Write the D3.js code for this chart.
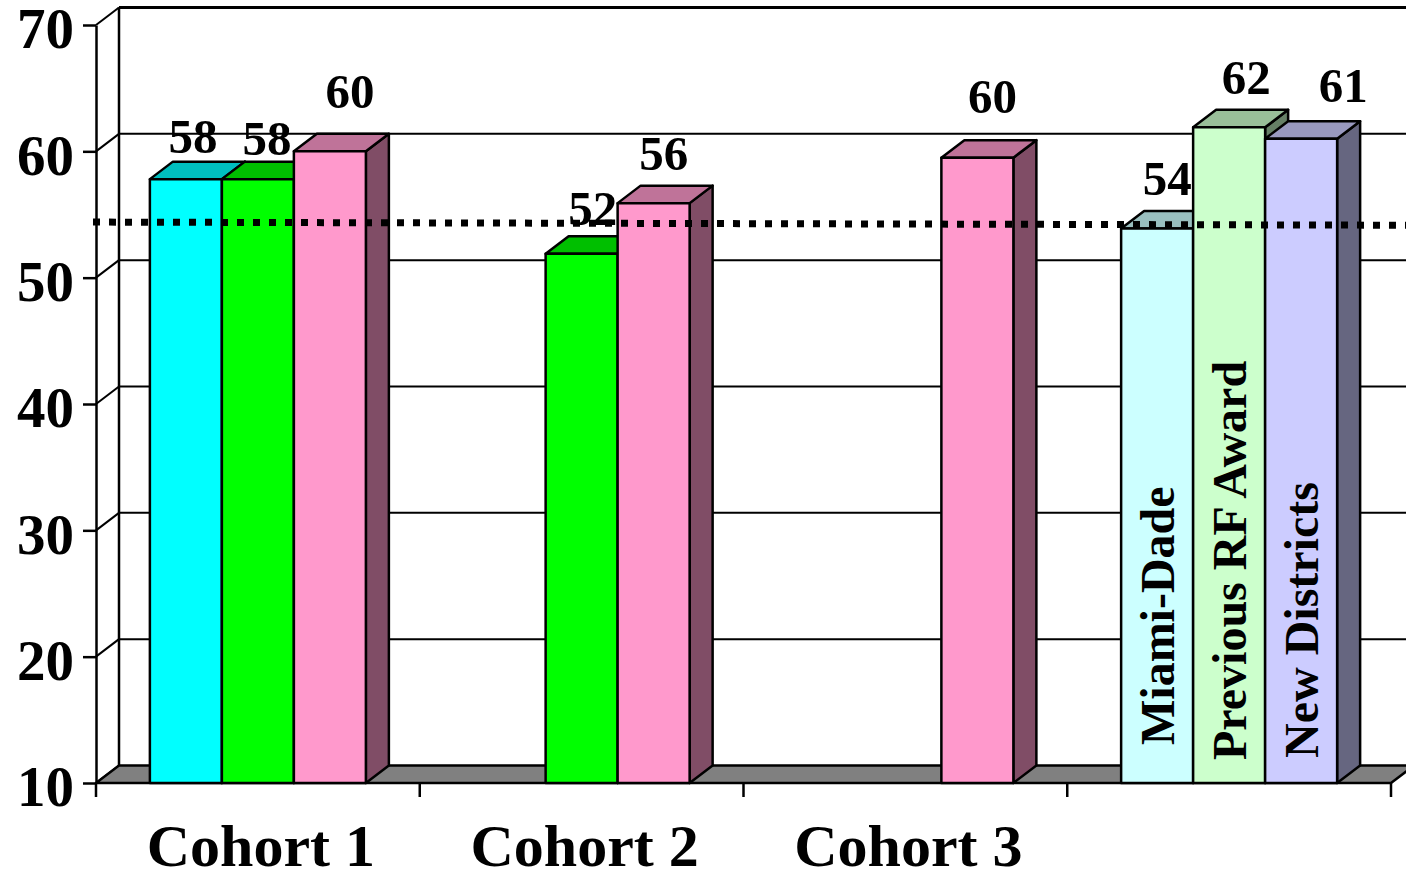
<!DOCTYPE html>
<html>
<head>
<meta charset="utf-8">
<script src="https://cdn.jsdelivr.net/npm/d3@7"></script>
<style>
  html, body { margin: 0; padding: 0; background: #fff; }
  svg { display: block; }
</style>
</head>
<body>
<svg id="chart"></svg>
<script>
// Dữ liệu
const categories = ["Cohort 1", "Cohort 2", "Cohort 3", ""];
const seriesNames = ["Miami-Dade", "Previous RF Award", "New Districts"];
const miamiDade = [57.8, null, null, 53.9];
const previousRF = [57.8, 51.9, null, 61.9];
const newDistricts = [60.0, 55.9, 59.5, 61.0];
const seriesColors = ["#00FFFF", "#00FF00", "#FF99CC"];
const totalColors = ["#CCFFFF", "#CCFFCC", "#CCCCFF"];
const yTicks = [10, 20, 30, 40, 50, 60, 70];
const refLine = [54.4, 54.15];

const allSeries = [miamiDade, previousRF, newDistricts];

// Kích thước
const width = 1406, height = 877;
const depth = { dx: 23, dy: -17.5 };
const font = "'Liberation Serif', 'Times New Roman', serif";

const svg = d3.select("#chart")
    .attr("width", width)
    .attr("height", height);

// Thang đo
const y = d3.scaleLinear().domain([10, 70]).range([783, 25]);
const x0 = d3.scaleBand().domain(categories).range([96, 1391]);
const x1 = d3.scaleBand().domain(d3.range(3)).range([0, 216]);
const slotX = (cat, si) => x0(cat) + (x0.bandwidth() - 216) / 2 + x1(si);
const bw = x1.bandwidth();

const xLeft = x0.range()[0], xRight = x0.range()[1];

// Tường sau: đường lưới
svg.append("g").selectAll("line")
    .data(yTicks.slice(1))
    .enter().append("line")
    .attr("x1", xLeft + depth.dx)
    .attr("x2", xRight + depth.dx)
    .attr("y1", d => y(d) + depth.dy)
    .attr("y2", d => y(d) + depth.dy)
    .attr("stroke", "#000")
    .attr("stroke-width", d => d === 70 ? 3 : 2);

// Tường bên trái: đường chéo
svg.append("g").selectAll("line")
    .data(yTicks)
    .enter().append("line")
    .attr("x1", xLeft)
    .attr("x2", xLeft + depth.dx)
    .attr("y1", d => y(d))
    .attr("y2", d => y(d) + depth.dy)
    .attr("stroke", "#000")
    .attr("stroke-width", 2);

svg.append("line")
    .attr("x1", xLeft + depth.dx).attr("x2", xLeft + depth.dx)
    .attr("y1", y(70) + depth.dy).attr("y2", y(10) + depth.dy)
    .attr("stroke", "#000").attr("stroke-width", 2.5);

// Sàn
svg.append("path")
    .attr("d", `M${xLeft},${y(10)} L${xRight},${y(10)} L${xRight + depth.dx},${y(10) + depth.dy} L${xLeft + depth.dx},${y(10) + depth.dy} Z`)
    .attr("fill", "#808080")
    .attr("stroke", "#000")
    .attr("stroke-width", 2.5)
    .attr("stroke-linejoin", "round");

// Trục Y
const yAxis = svg.append("g")
    .attr("transform", `translate(${xLeft},0)`)
    .call(d3.axisLeft(y).tickValues(yTicks).tickSize(13).tickSizeOuter(0).tickPadding(9));
yAxis.select(".domain").attr("stroke-width", 2.5);
yAxis.selectAll(".tick line").attr("stroke-width", 2.5);
yAxis.selectAll(".tick text")
    .attr("dy", "0.4em")
    .style("font-family", font)
    .style("font-weight", "bold")
    .style("font-size", "57px")
    .attr("fill", "#000");

// Trục X: vạch chia ở ranh giới
const bounds = categories.map(c => x0(c)).concat([xRight]);
svg.append("g").selectAll("line")
    .data(bounds)
    .enter().append("line")
    .attr("x1", d => d).attr("x2", d => d)
    .attr("y1", y(10)).attr("y2", y(10) + 14)
    .attr("stroke", "#000").attr("stroke-width", 2.5);

svg.append("g").selectAll("text")
    .data(categories)
    .enter().append("text")
    .attr("x", d => x0(d) + x0.bandwidth() / 2 + 3)
    .attr("y", 866)
    .attr("text-anchor", "middle")
    .style("font-family", font)
    .style("font-weight", "bold")
    .style("font-size", "60px")
    .text(d => d);

// Cột 3D
const shade = (c, k) => {
    const r = d3.rgb(c);
    return d3.rgb(r.r * k, r.g * k, r.b * k);
};

const bars = [];
categories.forEach((cat, ci) => {
    allSeries.forEach((s, si) => {
        if (s[ci] == null) return;
        const color = ci === categories.length - 1 ? totalColors[si] : seriesColors[si];
        bars.push({ cat, ci, si, value: s[ci], color });
    });
});

const barG = svg.append("g");
bars.forEach(b => {
    const xl = slotX(b.cat, b.si), xr = xl + bw;
    const yt = y(b.value), yb = y(10);
    const g = barG.append("g")
        .attr("stroke", "#000")
        .attr("stroke-width", 2.5)
        .attr("stroke-linejoin", "round");
    // mặt bên
    g.append("path")
        .attr("d", `M${xr},${yt} L${xr + depth.dx},${yt + depth.dy} L${xr + depth.dx},${yb + depth.dy} L${xr},${yb} Z`)
        .attr("fill", shade(b.color, 0.5));
    // mặt trên
    g.append("path")
        .attr("d", `M${xl},${yt} L${xl + depth.dx},${yt + depth.dy} L${xr + depth.dx},${yt + depth.dy} L${xr},${yt} Z`)
        .attr("fill", shade(b.color, 0.75));
    // mặt trước
    g.append("rect")
        .attr("x", xl).attr("y", yt)
        .attr("width", bw).attr("height", yb - yt)
        .attr("fill", b.color);
});

// Đường tham chiếu chấm
svg.append("line")
    .attr("x1", 93).attr("x2", width)
    .attr("y1", y(refLine[0])).attr("y2", y(refLine[1]))
    .attr("stroke", "#000")
    .attr("stroke-width", 7)
    .attr("stroke-dasharray", "7 9");

// Nhãn giá trị (độ lệch so với tâm mặt trước)
const labelOffsets = [
    [[7, -26], [9, -24], [20, -43]],
    [null, [11, -29], [10, -33]],
    [null, null, [15, -45]],
    [[10, -33], [17, -33], [42, -37]]
];
svg.append("g").selectAll("text")
    .data(bars)
    .enter().append("text")
    .attr("x", d => slotX(d.cat, d.si) + bw / 2 + labelOffsets[d.ci][d.si][0])
    .attr("y", d => y(d.value) + labelOffsets[d.ci][d.si][1])
    .attr("text-anchor", "middle")
    .style("font-family", font)
    .style("font-weight", "bold")
    .style("font-size", "49px")
    .text(d => d3.format(".0f")(d.value));

// Tên chuỗi trong nhóm cuối (chữ dọc)
const lastCat = categories[categories.length - 1];
const nameStart = [38, 23, 25];
svg.append("g").selectAll("text")
    .data(seriesNames)
    .enter().append("text")
    .attr("transform", (d, i) => `translate(${slotX(lastCat, i) + bw / 2 + 17},${y(10) - nameStart[i]}) rotate(-90)`)
    .attr("text-anchor", "start")
    .style("font-family", font)
    .style("font-weight", "bold")
    .style("font-size", "48px")
    .text(d => d);
</script>
</body>
</html>
